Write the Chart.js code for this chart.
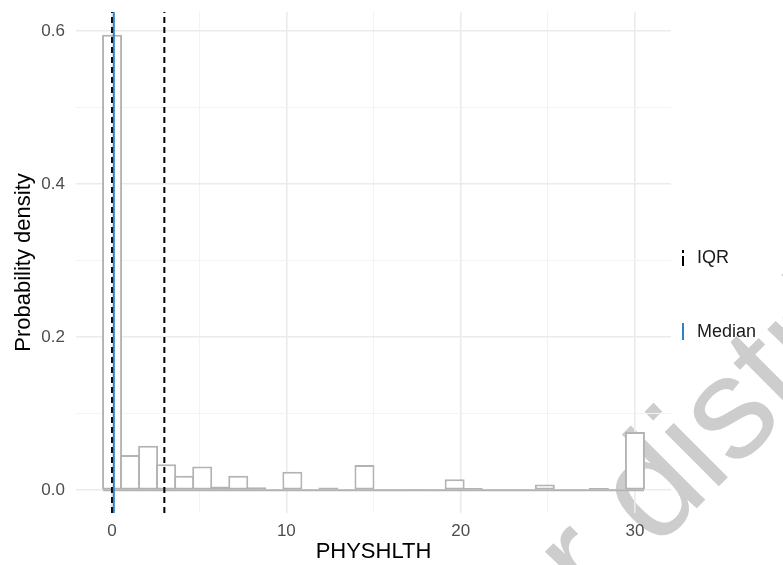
<!DOCTYPE html>
<html>
<head>
<meta charset="utf-8">
<title>PHYSHLTH density</title>
<script src="https://cdn.jsdelivr.net/npm/chart.js@4.4.0/dist/chart.umd.min.js"></script>
<style>
    html, body { margin: 0; padding: 0; background: #ffffff; }
    #wrap { width: 783px; height: 565px; }
</style>
</head>
<body>
<div id="wrap"><canvas id="densityChart" width="783" height="565"></canvas></div>
<script>
// Histogram: 30 bins spread over 0..30 (bin k centred at k * 30/29)
const binCount = 30;
const binIndex = [0, 1, 2, 3, 4, 5, 6, 7, 8, 9, 10, 11, 12, 13, 14,
                  15, 16, 17, 18, 19, 20, 21, 22, 23, 24, 25, 26, 27, 28, 29];
const density = [0.595, 0.046, 0.058, 0.034, 0.019, 0.031, 0.005, 0.019, 0.004, 0.001,
                 0.024, 0, 0.0035, 0, 0.033, 0.0005, 0.0005, 0.0015, 0.0005, 0.0145,
                 0.003, 0, 0.0005, 0, 0.0075, 0.0005, 0, 0.003, 0.001, 0.076];

// Summary lines
const iqrBounds = [0, 3];
const medianValue = 0.1;

// Axis ticks (empty label = minor grid line only)
const yTicks = [0, 0.1, 0.2, 0.3, 0.4, 0.5, 0.6];
const yTickLabels = ['0.0', '', '0.2', '', '0.4', '', '0.6'];
const xTicks = [0, 5, 10, 15, 20, 25, 30];
const xTickLabels = ['0', '', '10', '', '20', '', '30'];

const FONT = "'Liberation Sans', Arial, sans-serif";
const MEDIAN_BLUE = '#3080c8';

// Derived ranges (ggplot style 5% expansion)
const binWidth = 30 / (binCount - 1);
const binCentres = binIndex.map(k => k * binWidth);
const histLo = binCentres[0] - binWidth / 2;
const histHi = binCentres[binCentres.length - 1] + binWidth / 2;
const xMin = histLo - (histHi - histLo) * 0.05;
const xMax = histHi + (histHi - histLo) * 0.05;
const dMax = Math.max(...density);
const yMin = -dMax * 0.05;
const yMax = dMax * 1.05;

/**
 * Side keys (IQR / Median) and the faint watermark
 */
const sideKeys = {
    id: 'sideKeys',
    beforeDraw(chart) {
        const c = chart.ctx;
        c.save();
        const size = 145;
        c.font = `${size}px ${FONT}`;
        c.fillStyle = '#cdcdcd';
        c.translate(655, 550);
        c.rotate(-Math.PI / 4);
        c.textBaseline = 'alphabetic';
        const lead = c.measureText('for ').width;
        c.fillText('for distribution', -lead, 0);
        c.restore();
    },
    afterDraw(chart) {
        const c = chart.ctx;
        c.save();
        // IQR key: short dash on top, longer dash below
        c.strokeStyle = '#000000';
        c.lineWidth = 2;
        c.beginPath();
        c.moveTo(683, 250);
        c.lineTo(683, 253);
        c.moveTo(683, 256);
        c.lineTo(683, 266);
        c.stroke();
        // Median key
        c.strokeStyle = MEDIAN_BLUE;
        c.beginPath();
        c.moveTo(683, 323);
        c.lineTo(683, 340);
        c.stroke();

        c.fillStyle = '#1a1a1a';
        c.font = `18px ${FONT}`;
        c.textAlign = 'left';
        c.textBaseline = 'middle';
        c.fillText('IQR', 697, 258);
        c.fillText('Median', 697, 332);
        c.restore();
    }
};

const ctx = document.getElementById('densityChart').getContext('2d');

new Chart(ctx, {
    type: 'bar',
    data: {
        datasets: [
            {
                type: 'line',
                label: 'Median',
                data: [{ x: medianValue, y: yMin }, { x: medianValue, y: yMax }],
                borderColor: MEDIAN_BLUE,
                borderWidth: 2,
                pointRadius: 0,
                order: 1
            },
            {
                type: 'line',
                label: 'IQR',
                data: [
                    { x: iqrBounds[0], y: yMin }, { x: iqrBounds[0], y: yMax },
                    { x: (iqrBounds[0] + iqrBounds[1]) / 2, y: null },
                    { x: iqrBounds[1], y: yMin }, { x: iqrBounds[1], y: yMax }
                ],
                borderColor: '#000000',
                borderWidth: 2,
                borderDash: [6, 4],
                pointRadius: 0,
                spanGaps: false,
                order: 2
            },
            {
                type: 'line',
                label: 'baseline',
                data: [{ x: histLo, y: 0 }, { x: histHi, y: 0 }],
                borderColor: '#b3b3b3',
                borderWidth: 2,
                pointRadius: 0,
                order: 3
            },
            {
                type: 'bar',
                label: 'density',
                data: binCentres.map((c, i) => ({ x: c, y: density[i] })),
                backgroundColor: '#ffffff',
                borderColor: '#b3b3b3',
                borderWidth: 2,
                borderSkipped: false,
                barPercentage: 1.11,
                categoryPercentage: 1,
                grouped: false,
                order: 4
            }
        ]
    },
    options: {
        responsive: false,
        animation: false,
        devicePixelRatio: 1,
        layout: { padding: { top: 12, right: 112, bottom: 0, left: 0 } },
        plugins: {
            legend: { display: false },
            tooltip: { enabled: false }
        },
        scales: {
            x: {
                type: 'linear',
                min: xMin,
                max: xMax,
                offset: false,
                afterBuildTicks: scale => { scale.ticks = xTicks.map(v => ({ value: v })); },
                afterFit: scale => {
                    scale.height = 52;
                    scale.paddingLeft = 0;
                    scale.paddingRight = 0;
                },
                border: { display: false },
                grid: {
                    offset: false,
                    drawTicks: false,
                    color: c => (xTickLabels[c.index] ? '#ebebeb' : '#f3f3f3'),
                    lineWidth: c => (xTickLabels[c.index] ? 1.6 : 1)
                },
                ticks: {
                    autoSkip: false,
                    maxRotation: 0,
                    padding: 8,
                    color: '#4d4d4d',
                    font: { family: FONT, size: 17 },
                    callback: (v, i) => xTickLabels[i]
                },
                title: {
                    display: true,
                    text: 'PHYSHLTH',
                    color: '#000000',
                    padding: { top: 0, bottom: 0 },
                    font: { family: FONT, size: 22, lineHeight: 1.2 }
                }
            },
            y: {
                type: 'linear',
                min: yMin,
                max: yMax,
                afterBuildTicks: scale => { scale.ticks = yTicks.map(v => ({ value: v })); },
                afterFit: scale => {
                    scale.width = 76;
                    scale.paddingTop = 0;
                    scale.paddingBottom = 0;
                },
                border: { display: false },
                grid: {
                    drawTicks: false,
                    color: c => (yTickLabels[c.index] ? '#ebebeb' : '#f3f3f3'),
                    lineWidth: c => (yTickLabels[c.index] ? 1.6 : 1)
                },
                ticks: {
                    autoSkip: false,
                    padding: 11,
                    color: '#4d4d4d',
                    font: { family: FONT, size: 17 },
                    callback: (v, i) => yTickLabels[i]
                },
                title: {
                    display: true,
                    text: 'Probability density',
                    color: '#000000',
                    padding: { top: 11, bottom: 0 },
                    font: { family: FONT, size: 22, lineHeight: 1.2 }
                }
            }
        }
    },
    plugins: [sideKeys]
});
</script>
</body>
</html>
